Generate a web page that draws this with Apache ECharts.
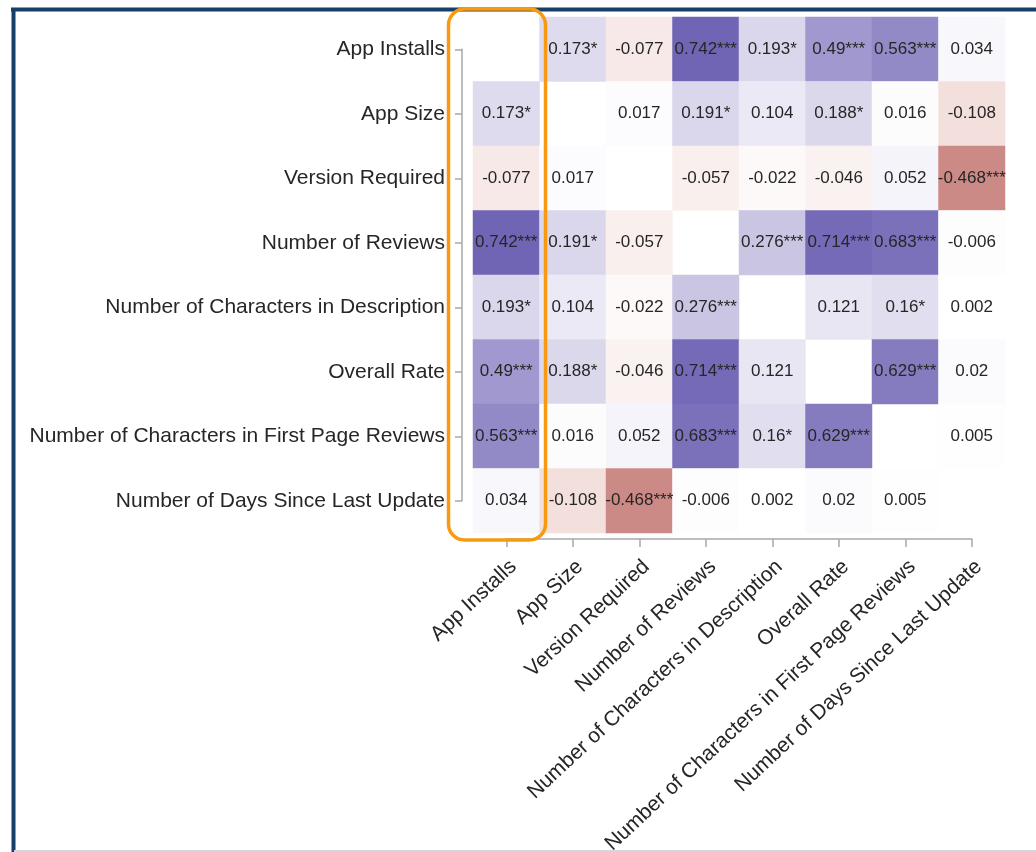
<!DOCTYPE html>
<html>
<head>
<meta charset="utf-8">
<title>Correlation matrix of app features</title>
<script src="https://cdn.jsdelivr.net/npm/echarts@6/dist/echarts.min.js"></script>
<style>
  html, body { margin: 0; padding: 0; background: #ffffff; }
  #chart { width: 1036px; height: 852px; }
</style>
</head>
<body>
<div id="chart"></div>
<script>
// Variables (same order on both axes)
const variables = [
  'App Installs',
  'App Size',
  'Version Required',
  'Number of Reviews',
  'Number of Characters in Description',
  'Overall Rate',
  'Number of Characters in First Page Reviews',
  'Number of Days Since Last Update'
];

// Pairwise correlation coefficients (null on the diagonal)
const corr = [
  [null, 0.173, -0.077, 0.742, 0.193, 0.49, 0.563, 0.034],
  [0.173, null, 0.017, 0.191, 0.104, 0.188, 0.016, -0.108],
  [-0.077, 0.017, null, -0.057, -0.022, -0.046, 0.052, -0.468],
  [0.742, 0.191, -0.057, null, 0.276, 0.714, 0.683, -0.006],
  [0.193, 0.104, -0.022, 0.276, null, 0.121, 0.16, 0.002],
  [0.49, 0.188, -0.046, 0.714, 0.121, null, 0.629, 0.02],
  [0.563, 0.016, 0.052, 0.683, 0.16, 0.629, null, 0.005],
  [0.034, -0.108, -0.468, -0.006, 0.002, 0.02, 0.005, null]
];

// Significance markers for each coefficient
const stars = [
  ['', '*', '', '***', '*', '***', '***', ''],
  ['*', '', '', '*', '', '*', '', ''],
  ['', '', '', '', '', '', '', '***'],
  ['***', '*', '', '', '***', '***', '***', ''],
  ['*', '', '', '***', '', '', '*', ''],
  ['***', '*', '', '***', '', '', '***', ''],
  ['***', '', '', '***', '*', '***', '', ''],
  ['', '', '***', '', '', '', '', '']
];

// Diverging palette from -1 (red) through 0 (white) to +1 (purple)
const palette = ['#962d2d', '#af5855', '#c98380', '#e3b7b0', '#ffffff',
                 '#cfcbe6', '#9e96cd', '#6e63b4', '#3e2f9b'];

const FONT = '"Liberation Sans", Arial, sans-serif';

const cells = [];
corr.forEach((row, r) => {
  row.forEach((v, c) => {
    if (v !== null) cells.push([c, r, v, stars[r][c]]);
  });
});

// Heatmap cell area
const cellW = 66.5, cellH = 64.5;
const gx = 473, gy = 17;
const n = variables.length;

const chart = echarts.init(document.getElementById('chart'), null, { renderer: 'canvas' });

const axisLineStyle = { color: '#a8a8a8', width: 1.5 };

chart.setOption({
  backgroundColor: '#ffffff',
  animation: false,
  grid: [
    // cells
    { left: gx, top: gy, width: cellW * n, height: cellH * n, outerBoundsMode: 'none' },
    // left axis running from first to last row centre
    { left: 462, top: gy + cellH / 2, width: 10, height: cellH * (n - 1), outerBoundsMode: 'none' },
    // bottom axis running from first to last column centre
    { left: gx + cellW / 2, top: 529, width: cellW * (n - 1), height: 10, outerBoundsMode: 'none' }
  ],
  xAxis: [
    { gridIndex: 0, type: 'category', data: variables, show: false },
    { gridIndex: 1, type: 'value', show: false },
    {
      gridIndex: 2, type: 'category', data: variables, boundaryGap: false,
      axisLine: { lineStyle: axisLineStyle },
      axisTick: { length: 8, lineStyle: axisLineStyle },
      axisLabel: {
        rotate: 43, interval: 0, margin: 17, verticalAlign: 'top',
        fontSize: 21, color: '#262626', fontFamily: FONT
      }
    }
  ],
  yAxis: [
    { gridIndex: 0, type: 'category', data: variables, inverse: true, show: false },
    {
      gridIndex: 1, type: 'category', data: variables, inverse: true, boundaryGap: false,
      axisLine: { lineStyle: axisLineStyle },
      axisTick: { length: 7, lineStyle: axisLineStyle },
      axisLabel: { interval: 0, margin: 17, fontSize: 21, color: '#262626', fontFamily: FONT }
    },
    { gridIndex: 2, type: 'value', show: false }
  ],
  visualMap: {
    type: 'continuous', show: false, min: -1, max: 1, dimension: 2,
    seriesIndex: 0,
    inRange: { color: palette }
  },
  series: [{
    type: 'heatmap',
    xAxisIndex: 0, yAxisIndex: 0,
    data: cells,
    label: {
      show: true,
      fontFamily: FONT,
      fontSize: 17,
      color: '#262626',
      formatter: p => String(p.value[2]) + p.value[3]
    },
    itemStyle: { borderWidth: 0 },
    emphasis: { disabled: true }
  }],
  graphic: [
    // frame: dark top and left edges, faint bottom edge
    { type: 'line', shape: { x1: 11, y1: 9.5, x2: 1036, y2: 9.5 }, style: { stroke: '#163f69', lineWidth: 4 }, z: 10 },
    { type: 'line', shape: { x1: 13.5, y1: 8, x2: 13.5, y2: 852 }, style: { stroke: '#163f69', lineWidth: 4 }, z: 10 },
    { type: 'line', shape: { x1: 14, y1: 851, x2: 1036, y2: 851 }, style: { stroke: '#d3d7dd', lineWidth: 2 }, z: 10 },
    // highlight around the first column
    {
      type: 'rect',
      shape: { x: 448.5, y: 9, width: 97, height: 531, r: 16 },
      style: { fill: 'none', stroke: '#f79a12', lineWidth: 3.5 },
      z: 20
    }
  ]
});
</script>
</body>
</html>
